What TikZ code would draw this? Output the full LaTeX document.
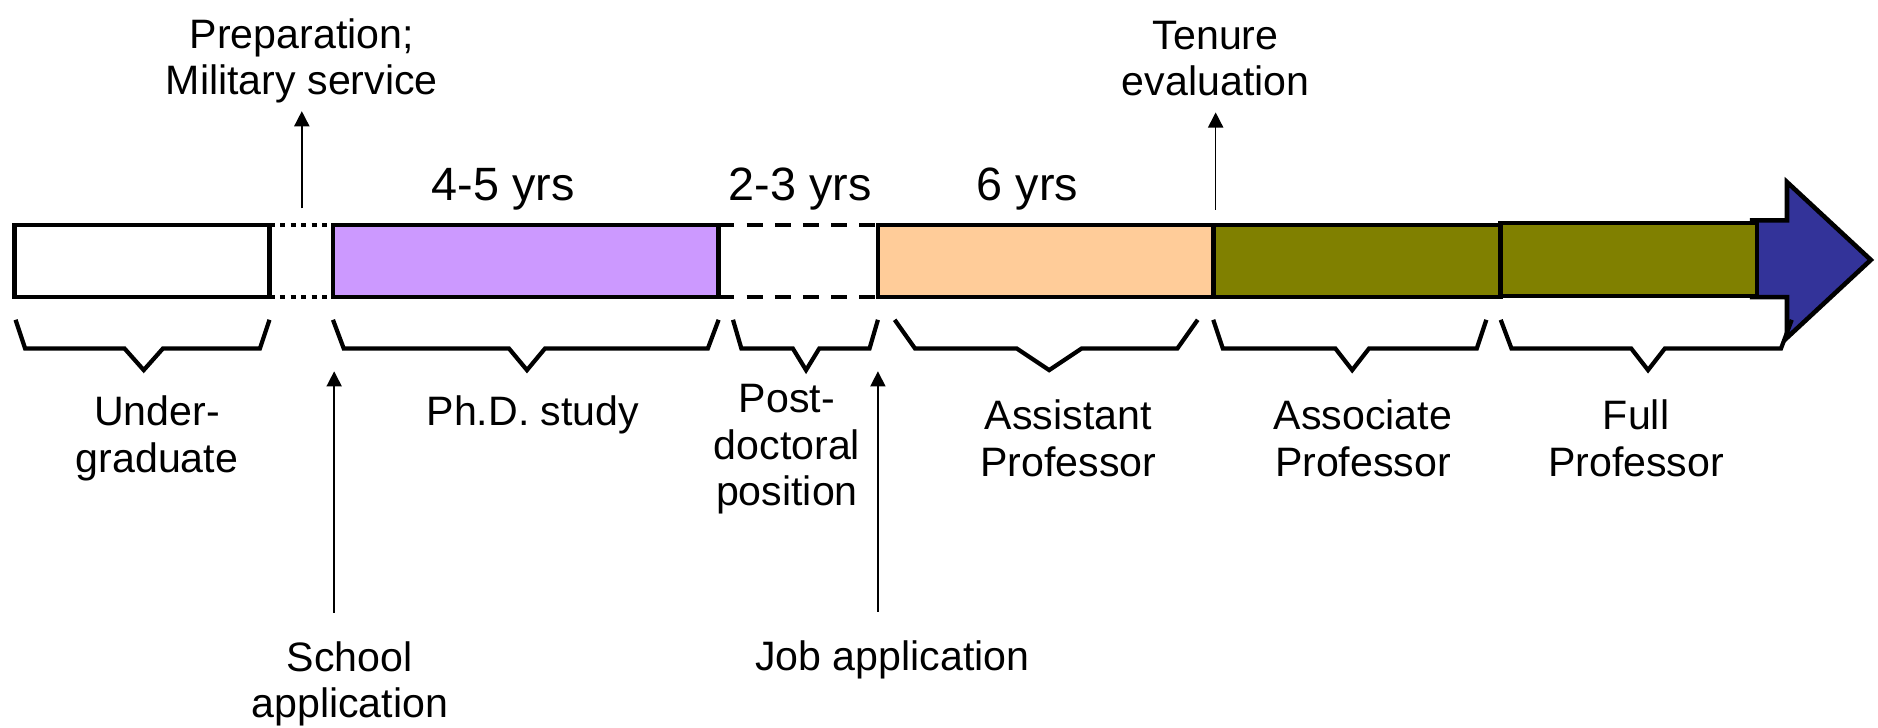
\documentclass[tikz,border=0pt]{standalone}
\usepackage{fontspec}
\setmainfont{Liberation Sans}
\usepackage{tikz}
\usetikzlibrary{arrows.meta, positioning}
\definecolor{phdpurple}{HTML}{CC99FF}
\definecolor{asstpeach}{HTML}{FFCC99}
\definecolor{tenureolive}{HTML}{808000}
\definecolor{futureblue}{HTML}{333399}

\begin{document}
\begin{tikzpicture}[x=0.011977cm, y=-0.011977cm,
    every node/.style={font=\fontsize{11.7}{13.2}\selectfont, align=center, inner sep=1pt},
    bar/.style={draw=black, line width=1.3pt},
    span/.style={line width=1.2pt, line join=miter},
    pointer/.style={line width=0.45pt, -{Triangle[length=4.3pt, width=4.3pt]}},
    yrs/.style={font=\fontsize{13.3}{15}\selectfont}]
  \useasboundingbox (0,0) rectangle (1568,607);

  % the career bar
  \draw[bar, fill=futureblue] (1463,184) -- (1492,184) -- (1492,152) -- (1562,217)
     -- (1492,282) -- (1492,248) -- (1463,248) -- cycle;
  \draw[bar, dash pattern=on 1.5pt off 1.5pt] (225,188) -- (278,188) (225,248) -- (278,248);
  \draw[bar, dash pattern=on 4.5pt off 3.5pt] (600,188) -- (733,188) (600,248) -- (733,248);
  \foreach \xa/\xb/\col in {12/225/white, 278/600/phdpurple, 733/1013/asstpeach,
      1013/1253/tenureolive}{
    \draw[bar, fill=\col] (\xa,188) rectangle (\xb,248);
  }
  \draw[bar, fill=tenureolive] (1253,186) rectangle (1467,247);

  % braces under the stages
  \foreach \xa/\xb/\xm/\dx/\hw in {13/225/120/8/16, 278/600/440/9/15, 612/733/673/7/11,
      747/1000/876/17/27, 1013/1241/1129/8/14, 1253/1496/1376/9/14}{
    \draw[span] (\xa,267) -- ({\xa+\dx},291) -- ({\xm-\hw},291) -- (\xm,309)
      -- ({\xm+\hw},291) -- ({\xb-\dx},291) -- (\xb,267);
  }

  % labels
  \node (prep) at (252,51) {Preparation;\\Military service};
  \node (tenure) at (1015,49) {Tenure\\evaluation};
  \node[yrs] (phdyrs) at (420,158) {4-5 yrs};
  \node[yrs] (pdyrs) at (668,158) {2-3 yrs};
  \node[yrs] (apyrs) at (858,158) {6 yrs};
  \node (ug) at (131,366) {Under-\\graduate};
  \node (phd) at (445,346) {Ph.D. study};
  \node (pd) at (657,375) {Post-\\doctoral\\position};
  \node (ap) at (892,366) {Assistant\\Professor};
  \node (asp) at (1138,366) {Associate\\Professor};
  \node (fp) at (1366,366) {Full\\Professor};
  \node (school) at (292,571) {School\\application};
  \node (job) at (745,551) {Job application};

  % milestones
  \coordinate (prepfoot) at (252,174);
  \coordinate (tenurefoot) at (1015,175);
  \coordinate (phdstart) at (279,310);
  \coordinate (apstart) at (733,310);
  \draw[pointer, shorten >=1pt] (prepfoot) -- (prep.south -| prepfoot);
  \draw[pointer, shorten >=3.4pt] (tenurefoot) -- (tenure.south -| tenurefoot);
  \draw[pointer, shorten <=7pt] (school.north -| phdstart) -- (phdstart);
  \draw[pointer, shorten <=7pt] (job.north -| apstart) -- (apstart);
\end{tikzpicture}
\end{document}
